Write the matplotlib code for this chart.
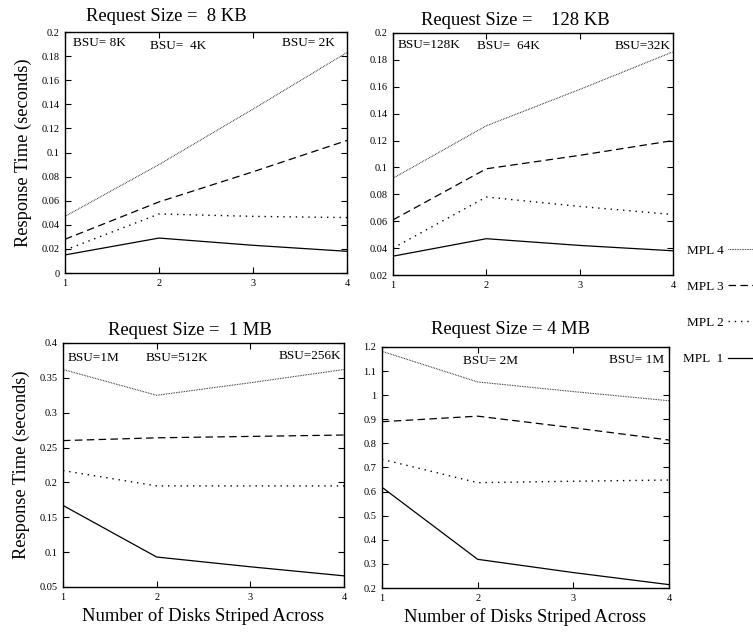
import matplotlib
matplotlib.use("Agg")
import matplotlib.pyplot as plt
from matplotlib.ticker import FuncFormatter, MultipleLocator

plt.rcParams['font.family'] = ['Liberation Serif', 'DejaVu Serif']

# number of disks striped across
disks = [1, 2, 3, 4]

# 8 KB requests
kb8_mpl4 = [0.047, 0.090, 0.136, 0.183]
kb8_mpl3 = [0.028, 0.059, 0.084, 0.110]
kb8_mpl2 = [0.019, 0.049, 0.047, 0.046]
kb8_mpl1 = [0.015, 0.029, 0.023, 0.018]

# 128 KB requests
kb128_mpl4 = [0.092, 0.131, 0.158, 0.186]
kb128_mpl3 = [0.061, 0.099, 0.109, 0.120]
kb128_mpl2 = [0.040, 0.078, 0.071, 0.065]
kb128_mpl1 = [0.034, 0.047, 0.042, 0.038]

# 1 MB requests
mb1_mpl4 = [0.362, 0.325, 0.343, 0.362]
mb1_mpl3 = [0.260, 0.264, 0.266, 0.268]
mb1_mpl2 = [0.217, 0.195, 0.195, 0.195]
mb1_mpl1 = [0.167, 0.093, 0.079, 0.066]

# 4 MB requests
mb4_mpl4 = [1.182, 1.055, 1.015, 0.977]
mb4_mpl3 = [0.890, 0.913, 0.865, 0.814]
mb4_mpl2 = [0.734, 0.637, 0.643, 0.648]
mb4_mpl1 = [0.618, 0.319, 0.264, 0.214]

mpl_labels = ["MPL 4", "MPL 3", "MPL 2", "MPL  1"]

titles = ["Request Size =  8 KB", "Request Size =    128 KB",
          "Request Size =  1 MB", "Request Size = 4 MB"]

# BSU annotations: (text, x in data units, alignment, height as axes fraction)
bsu_8k = [("BSU= 8K", 1.09, 'left', 0.955), ("BSU=  4K", 1.9, 'left', 0.94), ("BSU= 2K", 3.87, 'right', 0.955)]
bsu_128k = [("BSU=128K", 1.05, 'left', 0.95), ("BSU=  64K", 1.9, 'left', 0.945), ("BSU=32K", 3.97, 'right', 0.945)]
bsu_1m = [("BSU=1M", 1.05, 'left', 0.94), ("BSU=512K", 1.88, 'left', 0.94), ("BSU=256K", 3.97, 'right', 0.945)]
bsu_4m = [("BSU= 2M", 1.85, 'left', 0.94), ("BSU= 1M", 3.95, 'right', 0.945)]

W, H = 753, 632
fig = plt.figure(figsize=(W / 100, H / 100), dpi=100)


def add_axes(l, r, t, b):
    return fig.add_axes([l / W, 1 - b / H, (r - l) / W, (b - t) / H])


panels = [
    (add_axes(65, 347, 32, 273), [kb8_mpl4, kb8_mpl3, kb8_mpl2, kb8_mpl1], (0, 0.2), 0.02, bsu_8k, 0.36, 17),
    (add_axes(393, 673, 33, 275), [kb128_mpl4, kb128_mpl3, kb128_mpl2, kb128_mpl1], (0.02, 0.2), 0.02, bsu_128k, 0.436, 15),
    (add_axes(63, 344, 343, 587), [mb1_mpl4, mb1_mpl3, mb1_mpl2, mb1_mpl1], (0.05, 0.4), 0.05, bsu_1m, 0.45, 15),
    (add_axes(382, 669, 347, 588), [mb4_mpl4, mb4_mpl3, mb4_mpl2, mb4_mpl1], (0.2, 1.2), 0.1, bsu_4m, 0.446, 18),
]

styles = [(0, (0.6, 0.9)), (0, (6, 3.5)), (0, (1, 3.5)), '-']
widths = [0.8, 0.9, 1.0, 0.9]

for i, (ax, series, ylim, step, bsu, tx, tpad) in enumerate(panels):
    handles = []
    for vals, ls, lw, lab in zip(series, styles, widths, mpl_labels):
        h, = ax.plot(disks, vals, color='black', linestyle=ls, linewidth=lw, label=lab)
        handles.append(h)
    ax.set_xlim(1, 4)
    ax.set_ylim(*ylim)
    ax.xaxis.set_major_locator(MultipleLocator(1))
    ax.yaxis.set_major_locator(MultipleLocator(step))
    ax.yaxis.set_major_formatter(FuncFormatter(lambda v, _: f"{round(v, 4):g}"))
    ax.tick_params(direction='in', length=4, width=0.8, top=True, right=True,
                   labelsize=7.5, pad=4)
    for s in ax.spines.values():
        s.set_linewidth(1.0)
    ax.set_title(titles[i], fontsize=13.4, x=tx, pad=tpad - 9)
    for txt, xpos, ha, yf in bsu:
        ax.text(xpos, yf, txt, fontsize=9.5, ha=ha, va='center',
                transform=ax.get_xaxis_transform())
    if i in (0, 2):
        ax.set_ylabel("Response Time (seconds)", fontsize=13.2, labelpad=7)
    if i in (2, 3):
        ax.set_xlabel("Number of Disks Striped Across", fontsize=13.4, labelpad=4)

fig.legend(handles=handles, labels=mpl_labels, loc='upper left',
           bbox_to_anchor=(678 / W, 1 - 239 / H), frameon=False, markerfirst=False,
           fontsize=9.5, handlelength=2.0, handletextpad=0.35, labelspacing=1.82,
           borderaxespad=0)

fig.savefig("out.png", dpi=100)
